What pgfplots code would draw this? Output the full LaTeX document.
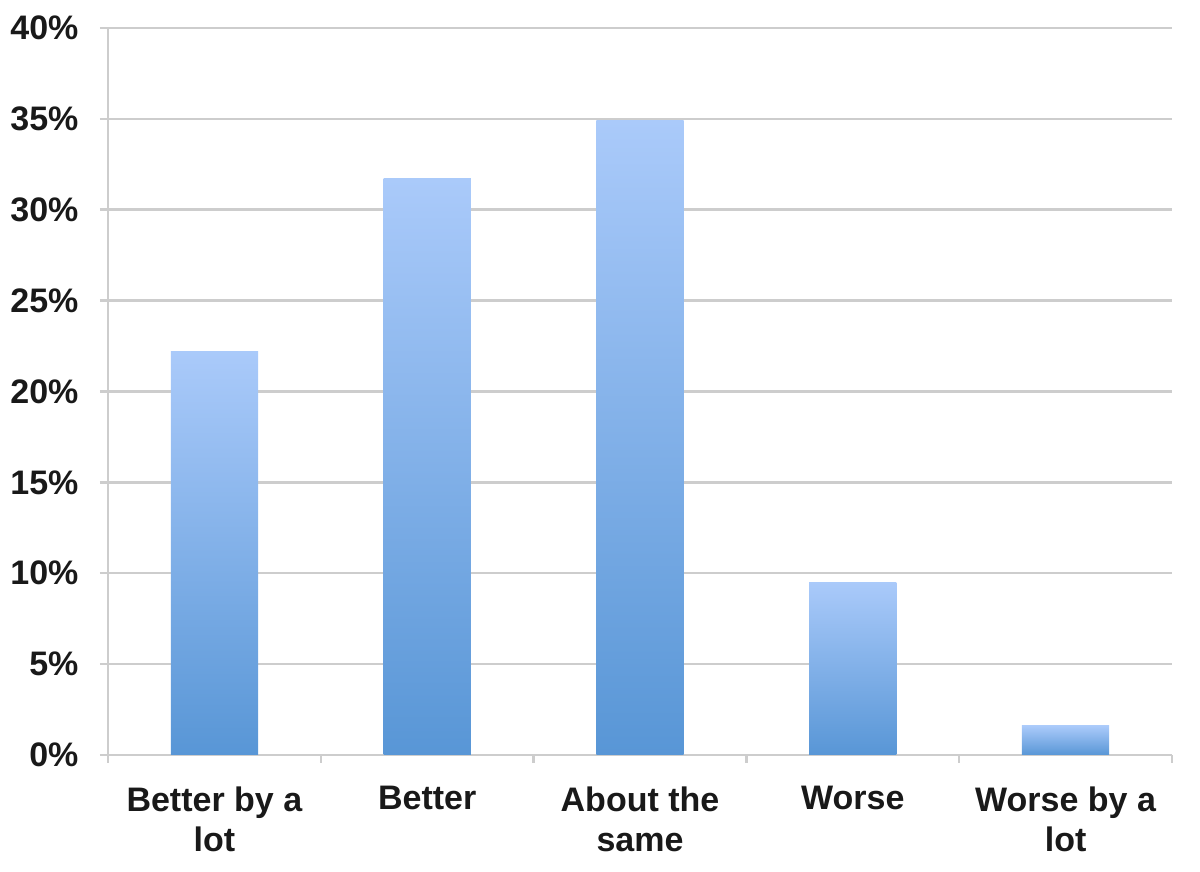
\documentclass[border=0pt]{standalone}
\usepackage{pgfplots}
\pgfplotsset{compat=1.18}
\usepackage{fontspec}
\setmainfont{Liberation Sans}
\definecolor{bartop}{RGB}{170,202,250}
\definecolor{barbot}{RGB}{88,150,214}
\definecolor{gridc}{RGB}{205,205,205}
\begin{document}
\begin{tikzpicture}
\useasboundingbox (0,0) rectangle (1200pt,872pt);
\begin{axis}[
  at={(108pt,117pt)}, anchor=south west,
  scale only axis, width=1064pt, height=727pt,
  xmin=-0.5, xmax=4.5, ymin=0, ymax=40,
  axis lines=left, axis line style={-, gridc, line width=2.5pt},
  ymajorgrids, grid style={gridc, line width=2.5pt},
  ytick={0,5,...,40},
  yticklabel={\pgfmathprintnumber{\tick}\%},
  /pgf/number format/assume math mode=true,
  xtick={0,1,2,3,4},
  xticklabels={Better by a\\lot, Better, About the\\same, Worse, Worse by a\\lot},
  minor xtick={-0.5,0.5,1.5,2.5,3.5,4.5},
  tick align=outside,
  major tick length=8pt, minor tick length=8pt,
  x tick style={draw=none},
  minor x tick style={draw=gridc, line width=2.5pt},
  y tick style={gridc, line width=2.5pt},
  ticklabel style={font=\fontsize{34}{40}\selectfont\bfseries, text=black!90},
  xticklabel style={align=center, yshift=-20pt},
  yticklabel style={xshift=-18pt},
  clip=false,
]
\addplot[ybar, bar width=0.41, draw=none, top color=bartop, bottom color=barbot]
  coordinates {(0,22.2)};
\addplot[ybar, bar width=0.41, draw=none, top color=bartop, bottom color=barbot]
  coordinates {(1,31.7)};
\addplot[ybar, bar width=0.41, draw=none, top color=bartop, bottom color=barbot]
  coordinates {(2,34.9)};
\addplot[ybar, bar width=0.41, draw=none, top color=bartop, bottom color=barbot]
  coordinates {(3,9.5)};
\addplot[ybar, bar width=0.41, draw=none, top color=bartop, bottom color=barbot]
  coordinates {(4,1.6)};
\end{axis}
\end{tikzpicture}
\end{document}
